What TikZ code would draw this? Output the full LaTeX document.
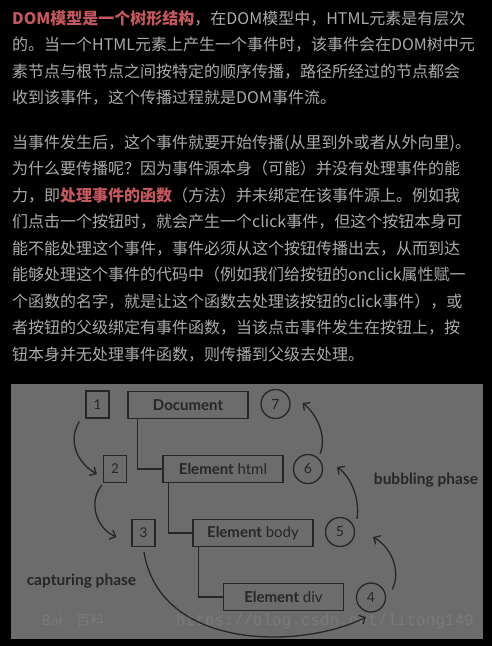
\documentclass[tikz,border=0pt]{standalone}
\usepackage{fontspec}
\setmainfont{Noto Sans CJK SC}
\newfontfamily\dia{Lato}
\newfontfamily\wm{Liberation Mono}
\usetikzlibrary{arrows.meta,calc}
\definecolor{txtgray}{HTML}{ABABAB}
\definecolor{hired}{HTML}{C4585D}
\definecolor{diagbg}{HTML}{6C6C6C}
\definecolor{ink}{HTML}{262626}
\definecolor{wmark}{HTML}{7A7A7A}
\begin{document}
\begin{tikzpicture}[x=1pt,y=-1pt,
  txt/.style={anchor=base west,inner sep=0pt,text=txtgray,font=\fontsize{16}{16}\selectfont},
  sq/.style={draw=ink,line width=1.3pt,minimum width=23pt,minimum height=27pt,inner sep=0pt,text=ink,font=\dia\fontsize{13.5}{13.5}\selectfont},
  elbox/.style={draw=ink,line width=1.3pt,minimum width=120pt,minimum height=27pt,inner sep=0pt,text=ink,font=\dia\fontsize{15}{15}\selectfont},
  circ/.style={draw=ink,line width=1.3pt,circle,minimum size=29pt,inner sep=0pt,text=ink,font=\dia\fontsize{14}{14}\selectfont},
  tree/.style={draw=ink,line width=1.3pt},
  arr/.style={draw=ink,line width=1.3pt,-{Straight Barb[length=5pt,width=10pt]}},
  phase/.style={text=ink,font=\dia\bfseries\fontsize{15.5}{15.5}\selectfont,inner sep=0pt},
  wmtxt/.style={text=wmark,inner sep=0pt}
]
\useasboundingbox (0,0) rectangle (492,646);
\fill[black] (0,0) rectangle (492,646);

% paragraph 1
\node[txt] (p1a) at (12,24) {\textcolor{hired}{\bfseries DOM模型是一个树形结构}，在DOM模型中，HTML元素是有层次};
\node[txt] (p1b) at (12,50.5) {的。当一个HTML元素上产生一个事件时，该事件会在DOM树中元};
\node[txt] (p1c) at (12,77) {素节点与根节点之间按特定的顺序传播，路径所经过的节点都会};
\node[txt] (p1d) at (12,103.5) {收到该事件，这个传播过程就是DOM事件流。};

% paragraph 2
\node[txt] (p2a) at (12,148) {当事件发生后，这个事件就要开始传播(从里到外或者从外向里)。};
\node[txt] (p2b) at (12,174.5) {为什么要传播呢？因为事件源本身（可能）并没有处理事件的能};
\node[txt] (p2c) at (12,201) {力，即\textcolor{hired}{\bfseries 处理事件的函数}（方法）并未绑定在该事件源上。例如我};
\node[txt] (p2d) at (12,227.5) {们点击一个按钮时，就会产生一个click事件，但这个按钮本身可};
\node[txt] (p2e) at (12,254) {能不能处理这个事件，事件必须从这个按钮传播出去，从而到达};
\node[txt] (p2f) at (12,280.5) {能够处理这个事件的代码中（例如我们给按钮的onclick属性赋一};
\node[txt] (p2g) at (12,307) {个函数的名字，就是让这个函数去处理该按钮的click事件），或};
\node[txt] (p2h) at (12,333.5) {者按钮的父级绑定有事件函数，当该点击事件发生在按钮上，按};
\node[txt] (p2i) at (12,360) {钮本身并无处理事件函数，则传播到父级去处理。};

% diagram
\fill[diagbg] (11,384) rectangle (483,639);

\node[wmtxt,font=\wm\fontsize{16}{16}\selectfont] (wm1) at (325,621) {https://blog.csdn.net/litong149};
\node[wmtxt,font=\fontsize{14}{14}\selectfont] (wm2) at (73,620) {Bai\hspace{14pt}百科};

\node[sq] (n1) at (97.5,404.5) {1};
\node[sq] (n2) at (115,469) {2};
\node[sq] (n3) at (143.5,533) {3};

\node[elbox] (doc) at (188,405) {\bfseries Document};
\node[elbox] (html) at (223,469) {\textbf{Element} html};
\node[elbox] (body) at (253,533) {\textbf{Element} body};
\node[elbox] (div) at (283.5,597) {\textbf{Element} div};

\node[circ] (c7) at (275.5,404) {7};
\node[circ] (c6) at (308,469) {6};
\node[circ] (c5) at (340,532) {5};
\node[circ] (c4) at (371,597.5) {4};

\draw[tree] ([xshift=10pt]doc.south west) |- (html.west);
\draw[tree] ([xshift=6pt]html.south west) |- (body.west);
\draw[tree] ([xshift=6pt]body.south west) |- (div.west);

\draw[arr] ($(n1.south west)+(-6,3)$) .. controls (68,440) and (76,462) .. ($(n2.west)+(-6,5)$);
\draw[arr] ($(n2.south west)+(-1,2)$) .. controls (88,502) and (96,528) .. ($(n3.west)+(-15,4)$);
\draw[arr] ($(n3.south)+(0.5,5)$) .. controls (160,650) and (300,650) .. ($(c4.south)+(-5,4.5)$);
\draw[arr] ($(c4.east)+(6,-8)$) .. controls (400,575) and (395,550) .. ($(c5.east)+(18,5)$);
\draw[arr] ($(c5.north)+(17,2)$) .. controls (360,500) and (352,478) .. ($(c6.east)+(14,-2)$);
\draw[arr] ($(c6.north)+(12,0)$) .. controls (327,438) and (318,415) .. ($(c7.east)+(12,-1)$);

\node[phase] (bub) at (426,480) {bubbling phase};
\node[phase] (cap) at (81.5,581) {capturing phase};
\end{tikzpicture}
\end{document}
